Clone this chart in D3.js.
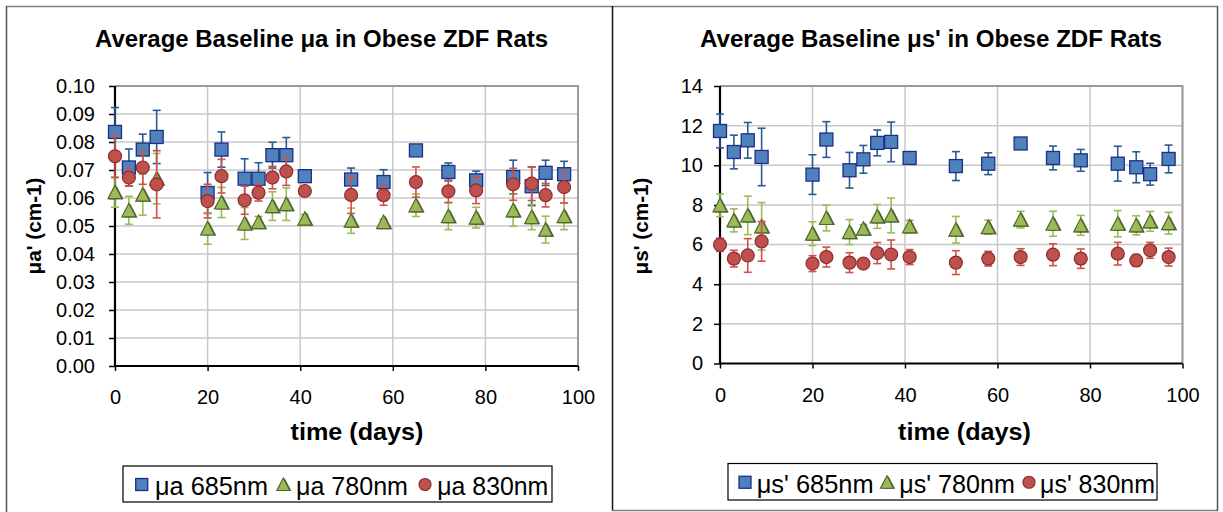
<!DOCTYPE html>
<html>
<head>
<meta charset="utf-8">
<script src="https://cdn.jsdelivr.net/npm/d3@7"></script>
<style>
  html, body { margin: 0; padding: 0; background: #fff; }
  svg { display: block; font-family: "Liberation Sans", Arial, sans-serif; }
</style>
</head>
<body>
<svg id="chart" width="1223" height="512"></svg>
<script>
// Measurement days
const days = [0, 3, 6, 9, 20, 23, 28, 31, 34, 37, 41, 51, 58, 65, 72, 78, 86, 90, 93, 97];

// Absorption coefficient (cm-1) and standard deviations
const muA685    = [0.0836, 0.0709, 0.0773, 0.0818, 0.0618, 0.0773, 0.0669, 0.0669, 0.0753, 0.0753, 0.0678, 0.0666, 0.0657, 0.0770, 0.0693, 0.0663, 0.0675, 0.0642, 0.0690, 0.0685];
const muA685Err = [0.0087, 0.0066, 0.0055, 0.0095, 0.0073, 0.0063, 0.0071, 0.0057, 0.0046, 0.0063, 0.0010, 0.0041, 0.0044, 0.0010, 0.0032, 0.0033, 0.0060, 0.0069, 0.0045, 0.0046];
const muA780    = [0.0621, 0.0556, 0.0612, 0.0669, 0.0491, 0.0584, 0.0509, 0.0514, 0.0571, 0.0578, 0.0526, 0.0519, 0.0514, 0.0574, 0.0535, 0.0530, 0.0556, 0.0532, 0.0487, 0.0535];
const muA780Err = [0.0054, 0.0050, 0.0073, 0.0090, 0.0056, 0.0054, 0.0057, 0.0020, 0.0051, 0.0058, 0.0015, 0.0045, 0.0010, 0.0040, 0.0048, 0.0037, 0.0057, 0.0045, 0.0048, 0.0048];
const muA830    = [0.0749, 0.0673, 0.0709, 0.0649, 0.0589, 0.0678, 0.0592, 0.0619, 0.0673, 0.0695, 0.0625, 0.0611, 0.0610, 0.0657, 0.0624, 0.0627, 0.0649, 0.0651, 0.0610, 0.0639];
const muA830Err = [0.0076, 0.0030, 0.0060, 0.0120, 0.0060, 0.0060, 0.0050, 0.0030, 0.0040, 0.0050, 0.0015, 0.0066, 0.0036, 0.0054, 0.0040, 0.0047, 0.0057, 0.0060, 0.0042, 0.0057];

// Reduced scattering coefficient (cm-1) and standard deviations
const muS685    = [11.73, 10.67, 11.26, 10.42, 9.53, 11.30, 9.75, 10.30, 11.13, 11.18, 10.37, 9.96, 10.08, 11.10, 10.37, 10.25, 10.08, 9.90, 9.55, 10.32];
const muS685Err = [0.85, 0.85, 0.90, 1.45, 1.00, 0.90, 0.90, 0.70, 0.65, 1.00, 0.10, 0.73, 0.55, 0.10, 0.60, 0.55, 0.88, 0.78, 0.55, 0.70];
const muS780    = [7.98, 7.22, 7.47, 6.92, 6.55, 7.34, 6.63, 6.80, 7.42, 7.47, 6.92, 6.75, 6.88, 7.26, 7.05, 6.97, 7.05, 6.97, 7.17, 7.08];
const muS780Err = [0.57, 0.58, 0.97, 1.20, 0.60, 0.65, 0.63, 0.20, 0.60, 0.88, 0.30, 0.67, 0.35, 0.42, 0.63, 0.50, 0.66, 0.48, 0.50, 0.55];
const muS830    = [5.99, 5.29, 5.45, 6.16, 5.04, 5.37, 5.09, 5.04, 5.57, 5.50, 5.37, 5.09, 5.29, 5.37, 5.49, 5.29, 5.54, 5.20, 5.71, 5.37];
const muS830Err = [0.33, 0.42, 0.85, 1.00, 0.40, 0.50, 0.50, 0.15, 0.53, 0.73, 0.38, 0.60, 0.37, 0.42, 0.55, 0.49, 0.57, 0.30, 0.40, 0.45];

// Axis ticks
const xTicks  = [0, 20, 40, 60, 80, 100];
const yTicksA = [0, 0.01, 0.02, 0.03, 0.04, 0.05, 0.06, 0.07, 0.08, 0.09, 0.10];
const yTicksS = [0, 2, 4, 6, 8, 10, 12, 14];

// Series labels
const seriesA = ["\u03bca 685nm", "\u03bca 780nm", "\u03bca 830nm"];
const seriesS = ["\u03bcs' 685nm", "\u03bcs' 780nm", "\u03bcs' 830nm"];

const styles = [
  { shape: "square",   fill: "#4f81bd", stroke: "#1c2f87", err: "#2c5a92" },
  { shape: "triangle", fill: "#9bbb59", stroke: "#4f6a24", err: "#9bbb59" },
  { shape: "circle",   fill: "#c0504d", stroke: "#8a2f2c", err: "#d2504c" }
];

const svg = d3.select("#chart");

// Outer frames of the two chart areas
svg.append("line").attr("x1", 6).attr("x2", 1218).attr("y1", 6.5).attr("y2", 6.5)
  .attr("stroke", "#808080").attr("stroke-width", 1.5);
svg.append("line").attr("x1", 6.5).attr("x2", 6.5).attr("y1", 6).attr("y2", 512)
  .attr("stroke", "#555").attr("stroke-width", 1.5);
svg.append("line").attr("x1", 612.5).attr("x2", 612.5).attr("y1", 6).attr("y2", 511)
  .attr("stroke", "#111").attr("stroke-width", 1.5);
svg.append("line").attr("x1", 612).attr("x2", 1218).attr("y1", 510.5).attr("y2", 510.5)
  .attr("stroke", "#808080").attr("stroke-width", 1.5);
svg.append("line").attr("x1", 1217.5).attr("x2", 1217.5).attr("y1", 6).attr("y2", 511)
  .attr("stroke", "#555").attr("stroke-width", 1.5);

function marker(g, shape, cx, cy, size, st) {
  const h = size / 2;
  if (shape === "square") {
    g.append("rect").attr("x", cx - h).attr("y", cy - h).attr("width", size).attr("height", size)
      .attr("fill", st.fill).attr("stroke", st.stroke).attr("stroke-width", 1.3);
  } else if (shape === "triangle") {
    const pts = (dx, dy) => [[cx + dx, cy - h - 0.5 + dy], [cx + h + 0.5 + dx, cy + h + dy], [cx - h - 0.5 + dx, cy + h + dy]].map(p => p.join(",")).join(" ");
    g.append("polygon").attr("points", pts(1.6, 0.6)).attr("fill", "#1a1a1a").attr("opacity", 0.75);
    g.append("polygon").attr("points", pts(0, 0))
      .attr("fill", st.fill).attr("stroke", st.stroke).attr("stroke-width", 1.2);
  } else {
    g.append("circle").attr("cx", cx).attr("cy", cy).attr("r", h)
      .attr("fill", st.fill).attr("stroke", st.stroke).attr("stroke-width", 1.2);
  }
}

function drawChart(cfg) {
  const x = d3.scaleLinear().domain([0, 100]).range([cfg.left, cfg.right]);
  const y = d3.scaleLinear().domain(cfg.yDomain).range([cfg.bottom, cfg.top]);
  const g = svg.append("g");

  // Gridlines
  g.append("g").selectAll("line").data(cfg.yTicks.slice(1)).join("line")
    .attr("x1", cfg.left).attr("x2", cfg.right)
    .attr("y1", d => y(d)).attr("y2", d => y(d))
    .attr("stroke", "#c8c8c8").attr("stroke-width", 1.5);
  g.append("g").selectAll("line").data(xTicks.slice(1)).join("line")
    .attr("x1", d => x(d)).attr("x2", d => x(d))
    .attr("y1", cfg.top).attr("y2", cfg.bottom)
    .attr("stroke", "#c8c8c8").attr("stroke-width", 1.5);

  // Plot area border (top and right)
  g.append("path")
    .attr("d", `M${cfg.left},${cfg.top}H${cfg.right}V${cfg.bottom}`)
    .attr("fill", "none").attr("stroke", "#9a9a9a").attr("stroke-width", 2);

  // Axes
  const yAxis = d3.axisLeft(y).tickValues(cfg.yTicks).tickFormat(cfg.yFormat)
    .tickSize(6).tickPadding(cfg.yPad);
  const xAxis = d3.axisBottom(x).tickValues(xTicks).tickFormat(d3.format("d"))
    .tickSize(5).tickPadding(19);
  const ya = g.append("g").attr("transform", `translate(${cfg.left},0)`).call(yAxis);
  const xa = g.append("g").attr("transform", `translate(0,${cfg.bottom})`).call(xAxis);
  [ya, xa].forEach(a => {
    a.select(".domain").attr("stroke", "#000").attr("stroke-width", 2.2);
    a.selectAll(".tick line").attr("stroke", "#000").attr("stroke-width", 1.5);
    a.selectAll(".tick text").attr("font-size", 20).attr("fill", "#000")
      .attr("font-family", "Liberation Sans, Arial, sans-serif");
  });
  xa.select(".domain").attr("d", `M${cfg.left},0H${cfg.right}`);
  ya.select(".domain").attr("d", `M0,${cfg.top}V${cfg.bottom}`);

  // Series: error bars then markers
  cfg.series.forEach((s, si) => {
    const st = styles[si];
    const sg = g.append("g");
    days.forEach((d, i) => {
      const cx = x(d);
      const y1 = y(s.values[i] + s.err[i]);
      const y0 = y(s.values[i] - s.err[i]);
      sg.append("line").attr("x1", cx).attr("x2", cx).attr("y1", y1).attr("y2", y0)
        .attr("stroke", st.err).attr("stroke-width", 1.6);
      [y1, y0].forEach(yy => sg.append("line")
        .attr("x1", cx - 4).attr("x2", cx + 4).attr("y1", yy).attr("y2", yy)
        .attr("stroke", st.err).attr("stroke-width", 1.6));
    });
    days.forEach((d, i) => marker(sg, st.shape, x(d), y(s.values[i]), 13, st));
  });

  // Title
  svg.append("text").attr("x", cfg.titleX).attr("y", 47).attr("text-anchor", "middle")
    .attr("font-size", 23).attr("font-weight", "bold")
    .attr("textLength", cfg.titleLen).attr("lengthAdjust", "spacingAndGlyphs")
    .text(cfg.title);

  // Axis titles
  svg.append("text").attr("x", cfg.xTitleX).attr("y", 440).attr("text-anchor", "middle")
    .attr("font-size", 23).attr("font-weight", "bold")
    .attr("textLength", 133).attr("lengthAdjust", "spacingAndGlyphs")
    .text("time (days)");
  svg.append("text")
    .attr("transform", `translate(${cfg.yTitleX},226) rotate(-90)`)
    .attr("text-anchor", "middle").attr("font-size", 21).attr("font-weight", "bold")
    .attr("textLength", 97).attr("lengthAdjust", "spacingAndGlyphs")
    .text(cfg.yTitle);

  // Legend
  const L = cfg.legend;
  svg.append("rect").attr("x", L.x).attr("y", L.y).attr("width", L.w).attr("height", L.h)
    .attr("fill", "#fff").attr("stroke", "#000").attr("stroke-width", 1.2);
  cfg.labels.forEach((lab, i) => {
    const st = styles[i];
    const lg = svg.append("g");
    marker(lg, st.shape, L.markers[i], L.y + L.h / 2 + 0.5, 12, st);
    lg.append("text").attr("x", L.texts[i]).attr("y", L.base)
      .attr("font-size", 25).attr("fill", "#000")
      .attr("textLength", L.lens[i]).attr("lengthAdjust", "spacingAndGlyphs")
      .text(lab);
  });
}

drawChart({
  left: 115, right: 578, top: 86, bottom: 366,
  yDomain: [0, 0.10], yTicks: yTicksA, yFormat: d3.format(".2f"), yPad: 14,
  series: [
    { values: muA685, err: muA685Err },
    { values: muA780, err: muA780Err },
    { values: muA830, err: muA830Err }
  ],
  title: "Average Baseline \u03bca in Obese ZDF Rats", titleX: 321.5, titleLen: 453,
  xTitleX: 357, yTitleX: 41, yTitle: "\u03bca' (cm-1)",
  labels: seriesA,
  legend: { x: 123, y: 466, w: 429, h: 36, base: 495,
            markers: [141.7, 283.3, 425], texts: [155, 296, 437.3], lens: [113, 112, 111] }
});

drawChart({
  left: 720, right: 1182.5, top: 86, bottom: 363.5,
  yDomain: [0, 14], yTicks: yTicksS, yFormat: d3.format("d"), yPad: 11,
  series: [
    { values: muS685, err: muS685Err },
    { values: muS780, err: muS780Err },
    { values: muS830, err: muS830Err }
  ],
  title: "Average Baseline \u03bcs' in Obese ZDF Rats", titleX: 931, titleLen: 462,
  xTitleX: 964.5, yTitleX: 648, yTitle: "\u03bcs' (cm-1)",
  labels: seriesS,
  legend: { x: 728, y: 463.5, w: 429, h: 36.5, base: 493,
            markers: [745, 887, 1029], texts: [756.7, 899.3, 1040], lens: [117, 115.5, 115] }
});
</script>
</body>
</html>
